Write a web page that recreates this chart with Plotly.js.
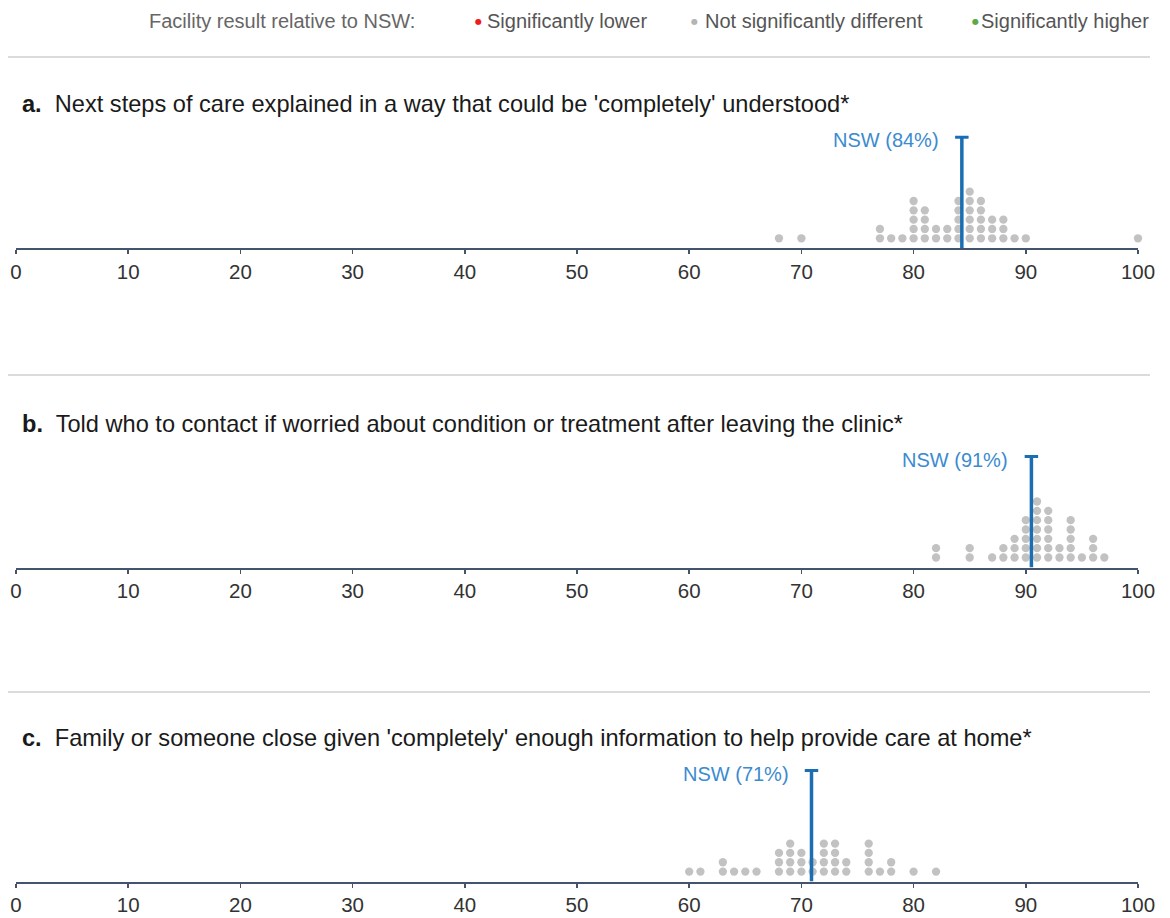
<!DOCTYPE html>
<html>
<head>
<meta charset="utf-8">
<script src="https://cdn.plot.ly/plotly-3.0.1.min.js"></script>
<style>html,body{margin:0;padding:0;background:#fff;}#chart{width:1170px;height:918px;}</style>
</head>
<body>
<div id="chart"></div>
<script>
// ---- data ----
const panelLetters = ['a.', 'b.', 'c.'];
const panelTitles = [
  "Next steps of care explained in a way that could be 'completely' understood*",
  "Told who to contact if worried about condition or treatment after leaving the clinic*",
  "Family or someone close given 'completely' enough information to help provide care at home*"
];
const scoresA = [68, 70, 77, 78, 79, 80, 81, 82, 83, 84, 85, 86, 87, 88, 89, 90, 100];
const countsA = [1, 1, 2, 1, 1, 5, 4, 2, 2, 5, 6, 5, 3, 3, 1, 1, 1];
const scoresB = [82, 85, 87, 88, 89, 90, 91, 92, 93, 94, 95, 96, 97];
const countsB = [2, 2, 1, 2, 3, 5, 7, 6, 2, 5, 1, 3, 1];
const scoresC = [60, 61, 63, 64, 65, 66, 68, 69, 70, 71, 72, 73, 74, 76, 77, 78, 80, 82];
const countsC = [1, 1, 2, 1, 1, 1, 3, 4, 3, 2, 4, 4, 2, 4, 1, 2, 1, 1];
const nswValues = [84.3, 90.5, 70.9];
const nswLabels = ['NSW (84%)', 'NSW (91%)', 'NSW (71%)'];
const tickValues = [0, 10, 20, 30, 40, 50, 60, 70, 80, 90, 100];
const tickLabels = ['0', '10', '20', '30', '40', '50', '60', '70', '80', '90', '100'];
const legendTitle = 'Facility result relative to NSW:';
const legendLabels = ['Significantly lower', 'Not significantly different', 'Significantly higher'];

// ---- styling / layout ----
const W = 1170, H = 918, ML = 16, MR = 32;
const PW = W - ML - MR;
const FONT = 'Liberation Sans, Arial, sans-serif';
const dotColor = '#c2c2c2';
const legendColors = ['#ee1c1c', '#b4b4b4', '#5aab46'];
const nswLineColor = '#1b6db4';
const nswTextColor = '#3b8bcf';
const axisColor = '#45546d';
const axisPx = [248.3, 567.5, 881.6];
const sepPx = [57, 375, 692];
const rowPx = 9.33;
const bottomOffsetPx = 10;
const domainPx = 135;
const capPx = 111;
const scores = [scoresA, scoresB, scoresC];
const counts = [countsA, countsB, countsC];

const py = p => 1 - p / H;
const px = p => (p - ML) / PW;

const traces = [];
const layout = {
  width: W, height: H,
  margin: {l: ML, r: MR, t: 0, b: 0},
  paper_bgcolor: '#fff', plot_bgcolor: 'rgba(0,0,0,0)',
  showlegend: false,
  font: {family: FONT, color: '#222'},
  annotations: [], shapes: []
};

for (let i = 0; i < 3; i++) {
  const sfx = i === 0 ? '' : String(i + 1);
  const xa = 'x' + sfx, ya = 'y' + sfx;
  const yBottom = -bottomOffsetPx / rowPx;
  const yTop = yBottom + domainPx / rowPx;
  const capY = yBottom + capPx / rowPx;
  const xs = [], ys = [];
  scores[i].forEach((s, j) => {
    for (let k = 0; k < counts[i][j]; k++) { xs.push(s); ys.push(k); }
  });
  traces.push({
    type: 'scatter', mode: 'markers', x: xs, y: ys, xaxis: xa, yaxis: ya,
    marker: {size: 8.3, color: dotColor, line: {width: 0}}, cliponaxis: false, hoverinfo: 'x'
  });
  const n = nswValues[i];
  traces.push({
    type: 'scatter', mode: 'lines', x: [n, n], y: [yBottom, capY], xaxis: xa, yaxis: ya,
    line: {color: nswLineColor, width: 3.5}, cliponaxis: false, hoverinfo: 'skip'
  });
  traces.push({
    type: 'scatter', mode: 'lines', x: [n - 0.6, n + 0.6], y: [capY, capY], xaxis: xa, yaxis: ya,
    line: {color: nswLineColor, width: 3}, cliponaxis: false, hoverinfo: 'skip'
  });
  layout['xaxis' + sfx] = {
    domain: [0, 1], range: [0, 100], anchor: ya,
    showline: true, linecolor: axisColor, linewidth: 2,
    ticks: 'outside', ticklen: 4, tickwidth: 1.5, tickcolor: axisColor,
    tickvals: tickValues, ticktext: tickLabels, ticklabelstandoff: 0,
    tickfont: {family: FONT, size: 20.5, color: '#333'},
    showgrid: false, zeroline: false, fixedrange: true
  };
  layout['yaxis' + sfx] = {
    domain: [py(axisPx[i]), py(axisPx[i] - domainPx)], range: [yBottom, yTop], anchor: xa,
    visible: false, showgrid: false, zeroline: false, fixedrange: true
  };
  layout.annotations.push({
    xref: xa, yref: ya, x: n, y: capY, xanchor: 'right', yanchor: 'middle',
    xshift: -21, yshift: -3, showarrow: false, text: nswLabels[i],
    font: {family: FONT, size: 20, color: nswTextColor}
  });
  layout.annotations.push({
    xref: 'paper', yref: 'paper', x: px(20), y: py(axisPx[i] - 144), xanchor: 'left', yanchor: 'middle',
    showarrow: false, text: '<b>' + panelLetters[i] + '</b>  ' + panelTitles[i],
    font: {family: FONT, size: 23.6, color: '#1a1a1a'}
  });
  layout.shapes.push({
    type: 'line', xref: 'paper', yref: 'paper', x0: px(8), x1: px(1150), y0: py(sepPx[i]), y1: py(sepPx[i]),
    line: {color: '#cfcfcf', width: 1.5}
  });
}

// legend row
layout.annotations.push({
  xref: 'paper', yref: 'paper', x: px(417), y: py(21), xanchor: 'right', yanchor: 'middle',
  showarrow: false, text: legendTitle, font: {family: FONT, size: 20, color: '#666'}
});
const legDotX = [478, 694, 975];
const legTextX = [485, 703, 979];
legendLabels.forEach((lab, i) => {
  layout.annotations.push({
    xref: 'paper', yref: 'paper', x: px(legDotX[i]), y: py(21), xanchor: 'center', yanchor: 'middle',
    showarrow: false, text: '●', font: {family: 'DejaVu Sans, sans-serif', size: 8, color: legendColors[i]}
  });
  layout.annotations.push({
    xref: 'paper', yref: 'paper', x: px(legTextX[i]), y: py(21), xanchor: 'left', yanchor: 'middle',
    showarrow: false, text: lab, font: {family: FONT, size: 20, color: '#555'}
  });
});

Plotly.newPlot('chart', traces, layout, {displayModeBar: false, staticPlot: true});
</script>
</body>
</html>
